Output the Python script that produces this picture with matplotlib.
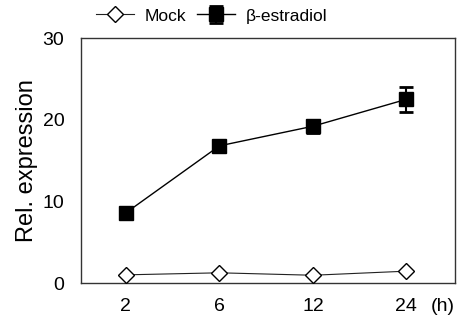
import numpy as np
import matplotlib
matplotlib.use("Agg")
import matplotlib.pyplot as plt

plt.rcParams['font.family'] = ['Liberation Sans', 'DejaVu Sans']

times = ["2", "6", "12", "24"]
mock = [1.0, 1.25, 0.95, 1.45]
estradiol = [8.6, 16.8, 19.2, 22.5]
estradiol_err = [0.3, 0.4, 0.8, 1.5]

fig = plt.figure(figsize=(4.58, 3.2), dpi=100)
ax = fig.add_axes([0.177, 0.1156, 0.8164, 0.7654])

x = np.arange(len(times))
ax.plot(x, mock, color='#222222', lw=0.8, marker='D', markersize=8,
        markerfacecolor='white', markeredgecolor='black', markeredgewidth=1,
        label='Mock', zorder=3)
ax.errorbar(x, estradiol, yerr=estradiol_err, color='black', lw=1,
            marker='s', markersize=10, markerfacecolor='black',
            ecolor='black', elinewidth=1.5, capsize=4.8, capthick=2,
            label='β-estradiol', zorder=4)

ax.set_xlim(-0.48, 3.52)
ax.set_ylim(0, 30)
ax.set_yticks([0, 10, 20, 30])
ax.set_xticks(x)
ax.set_xticklabels(times)
ax.tick_params(length=0, labelsize=14)
ax.tick_params(axis='y', pad=12)
ax.tick_params(axis='x', pad=11)
for s in ax.spines.values():
    s.set_color('#333333')
    s.set_linewidth(1)
ax.set_ylabel('Rel. expression', fontsize=17, labelpad=3)
ax.text(1.0, -0.095, '(h)', transform=ax.transAxes, fontsize=14,
        ha='right', va='center')

fig.legend(loc='center left', bbox_to_anchor=(0.195, 0.95), ncol=2,
           frameon=False, fontsize=12.5, handlelength=2.2, handletextpad=0.6,
           columnspacing=0.6, borderaxespad=0)

fig.savefig('out.png', dpi=100)
